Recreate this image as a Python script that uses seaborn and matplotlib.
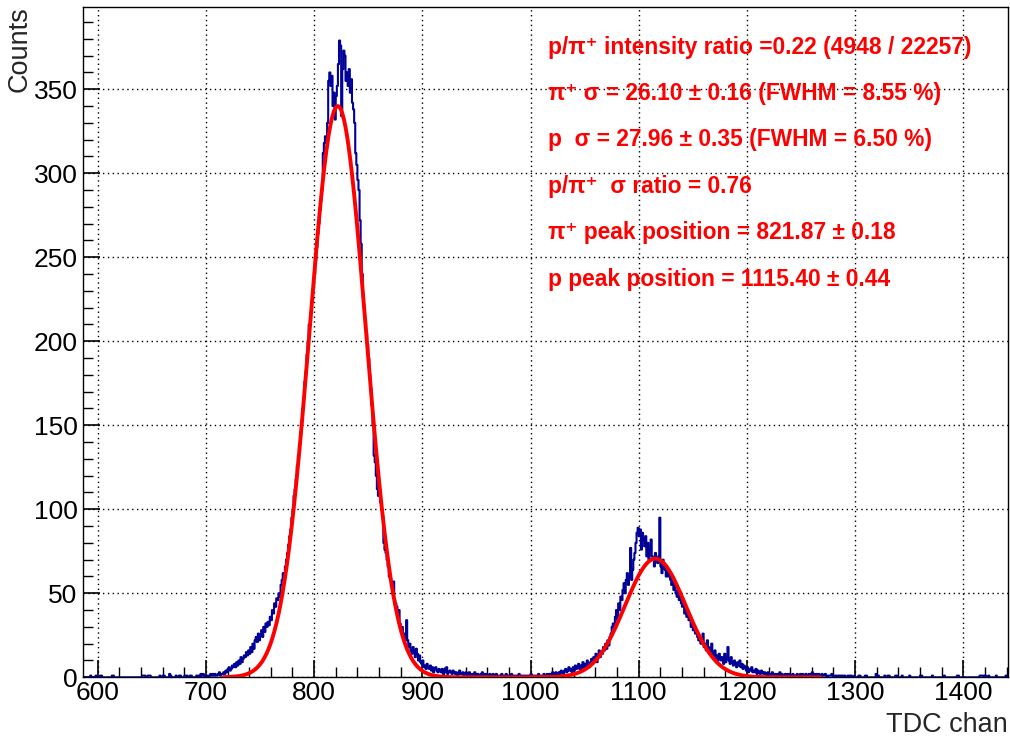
import numpy as np
import pandas as pd
import matplotlib
matplotlib.use("Agg")
import matplotlib.pyplot as plt
import seaborn as sns
from matplotlib.ticker import MultipleLocator

# ---------------- data ----------------
first_channel = 586          # first TDC channel of the histogram (bin width = 1 channel)
counts = [
    0,0,0,0,0,0,0,1,0,0,          # 586
    0,0,1,0,0,0,1,1,0,0,          # 596
    0,0,0,0,0,0,0,1,1,0,          # 606
    0,0,0,0,0,0,0,0,0,0,          # 616
    0,0,0,0,0,0,0,0,0,0,          # 626
    0,0,0,0,0,1,1,1,0,0,          # 636
    1,1,1,0,0,0,0,0,0,0,          # 646
    0,1,0,0,1,1,0,0,0,0,          # 656
    2,1,0,0,0,0,1,0,0,1,          # 666
    1,0,0,0,1,0,1,0,0,1,          # 676
    1,0,0,0,0,1,0,1,0,2,          # 686
    1,2,1,0,1,1,0,1,2,1,          # 696
    2,1,2,1,1,2,3,1,2,2,          # 706
    3,2,4,3,5,6,4,5,7,6,          # 716
    8,6,9,7,10,8,12,9,11,13,      # 726
    12,15,13,16,14,18,15,20,17,22,   # 736
    24,21,26,22,25,28,24,30,27,32,   # 746
    30,33,31,36,34,40,38,44,42,47,   # 756
    46,50,48,55,58,62,60,66,70,74,   # 766
    79,84,88,95,100,108,112,118,126,132,   # 776
    138,144,152,160,166,176,182,192,200,210,   # 786
    210,218,224,232,240,248,256,264,270,278,   # 796
    284,290,312,318,322,318,330,355,360,352,   # 806
    358,340,348,332,346,352,365,379,376,334,   # 816
    362,373,370,355,360,352,362,348,356,342,   # 826
    338,330,312,305,296,290,272,258,240,226,   # 836
    220,212,205,198,190,180,172,162,150,132,   # 846
    128,120,112,108,110,104,100,96,80,76,      # 856
    74,70,66,60,58,54,50,57,46,44,             # 866
    42,38,40,32,28,30,24,26,22,34,             # 876
    22,18,20,16,14,18,15,12,17,14,             # 886
    10,13,9,8,10,6,7,5,8,6,        # 896
    5,7,4,6,3,5,6,4,3,5,           # 906
    4,3,5,2,4,3,6,2,3,4,           # 916
    3,2,4,3,2,3,1,2,4,2,           # 926
    2,3,1,2,3,2,1,3,2,1,           # 936
    2,1,3,1,2,2,1,1,2,3,           # 946
    1,2,1,2,0,1,2,1,1,2,           # 956
    1,0,2,1,1,1,0,2,1,1,           # 966
    1,2,0,1,1,1,2,1,0,1,           # 976
    1,1,0,2,1,1,0,1,1,0,           # 986
    1,0,1,1,2,0,1,1,0,1,           # 996
    1,2,1,0,1,1,2,1,1,2,           # 1006
    1,2,2,1,3,2,1,3,2,2,           # 1016
    3,2,4,3,2,4,5,3,4,6,           # 1026
    4,5,3,6,4,7,5,6,8,5,           # 1036
    7,4,9,6,8,5,10,7,6,9,          # 1046
    11,8,12,10,14,9,13,16,12,15,   # 1056
    14,18,16,20,17,22,19,24,26,30, # 1066
    32,29,36,40,34,44,40,48,46,52, # 1076
    56,50,58,62,55,60,77,58,64,70, # 1086
    74,80,86,89,84,88,76,86,82,78, # 1096
    84,72,80,70,76,82,72,70,66,74, # 1106
    70,68,72,95,66,62,70,68,64,60, # 1116
    64,60,62,58,55,60,52,56,50,48, # 1126
    52,46,48,44,42,46,38,40,36,38, # 1136
    34,36,30,32,28,30,26,28,24,22, # 1146
    24,20,22,26,18,20,16,22,18,14, # 1156
    16,20,14,12,16,11,13,10,14,12, # 1166
    10,12,8,14,9,11,18,10,8,12,    # 1176
    9,7,10,8,6,9,7,10,6,8,         # 1186
    5,7,6,4,6,3,5,4,6,3,           # 1196
    4,3,5,2,4,3,2,4,3,2,           # 1206
    3,2,1,3,2,1,2,3,1,2,           # 1216
    2,1,2,1,3,1,2,1,1,2,           # 1226
    1,2,1,2,1,1,2,1,0,1,           # 1236
    2,1,1,2,1,2,1,1,2,1,           # 1246
    1,2,2,1,3,1,2,1,2,1,           # 1256
    2,1,1,2,1,1,2,1,0,1,           # 1266
    1,1,2,1,0,1,1,0,1,1,           # 1276
    0,1,1,0,1,0,0,1,0,1,           # 1286
    1,0,0,1,0,0,0,1,1,0,           # 1296
    0,0,0,1,1,0,0,0,0,0,           # 1306
    0,0,0,2,1,1,0,0,0,0,           # 1316
    0,1,0,0,1,1,0,0,0,0,           # 1326
    0,1,1,0,0,0,0,1,0,0,           # 1336
    0,0,0,0,1,0,0,0,0,0,           # 1346
    0,0,0,0,1,1,0,0,0,0,           # 1356
    0,0,0,0,0,1,0,0,0,0,           # 1366
    0,0,0,0,0,0,1,0,0,0,           # 1376
    0,0,0,0,0,0,0,0,1,1,           # 1386
    0,0,0,0,0,0,0,0,0,0,           # 1396
    0,0,0,0,0,0,0,0,0,1,           # 1406
    1,1,0,1,1,0,0,1,0,0,           # 1416
    0,0,0,0,1,0,0,0,0,0,           # 1426
    0,0,0,1,0,0,                   # 1436
]

# Gaussian fit results (amplitude, mean, sigma, fit range)
pion_fit = dict(amp=340.0, mean=821.87, sigma=26.10, lo=716.0, hi=1027.0)
proton_fit = dict(amp=70.6, mean=1115.40, sigma=27.96, lo=1000.0, hi=1268.0)

annotations = [
    "p/π⁺ intensity ratio =0.22 (4948 / 22257)",
    "π⁺ σ = 26.10 ± 0.16 (FWHM = 8.55 %)",
    "p  σ = 27.96 ± 0.35 (FWHM = 6.50 %)",
    "p/π⁺  σ ratio = 0.76",
    "π⁺ peak position = 821.87 ± 0.18",
    "p peak position = 1115.40 ± 0.44",
]

x_label = "TDC chan"
y_label = "Counts"

# ---------------- plotting ----------------
sns.set_theme(style="white")
plt.rcParams["font.family"] = ["Liberation Sans", "DejaVu Sans"]

channels = first_channel + np.arange(len(counts))
df = pd.DataFrame({"chan": channels + 0.5, "n": counts})

fig = plt.figure(figsize=(10.10, 7.38), dpi=100)
ax = fig.add_axes([83 / 1010, 1 - 677.3 / 738, (1008 - 83) / 1010, (677.3 - 7.3) / 738])

sns.histplot(data=df, x="chan", weights="n", binwidth=1,
             binrange=(first_channel, first_channel + len(counts)),
             element="step", fill=False,
             color="#000099", linewidth=1.5, ax=ax, zorder=3)

def gauss_frame(p):
    xs = np.linspace(p["lo"], p["hi"], 500)
    ys = p["amp"] * np.exp(-0.5 * ((xs - p["mean"]) / p["sigma"]) ** 2)
    return pd.DataFrame({"x": xs, "y": ys})

for p in (pion_fit, proton_fit):
    sns.lineplot(data=gauss_frame(p), x="x", y="y", color="#ff0000", linewidth=2.8,
                 ax=ax, zorder=4)

ax.set_xlim(586.4, 1441.3)
ax.set_ylim(0, 398.8)
ax.set_xlabel("")
ax.set_ylabel("")

ax.xaxis.set_major_locator(MultipleLocator(100))
ax.xaxis.set_minor_locator(MultipleLocator(20))
ax.yaxis.set_major_locator(MultipleLocator(50))
ax.yaxis.set_minor_locator(MultipleLocator(10))
ax.tick_params(axis="both", which="both", direction="in", colors="black",
               bottom=True, left=True, top=False, right=False)
ax.tick_params(axis="both", which="major", length=12, width=1.2, labelsize=19)
ax.tick_params(axis="both", which="minor", length=7, width=1.0)
ax.tick_params(axis="x", which="major", pad=3)
ax.tick_params(axis="y", which="major", pad=4)

ax.grid(True, which="major", color="black", linestyle=(0, (1, 2.5)), linewidth=1.0)
ax.set_axisbelow(True)
for s in ax.spines.values():
    s.set_color("black")
    s.set_linewidth(1.0)

# annotations
line_y = [375, 347.5, 320, 292.2, 264.5, 236.7]
for txt, yv in zip(annotations, line_y):
    ax.text(1016, yv, txt, color="#ff0000", fontsize=16.4, fontweight="bold",
            ha="left", va="center", zorder=5)

fig.text(20 / 1010, 1 - 6 / 738, y_label, rotation=90, ha="center", va="top", fontsize=19.5)
fig.text(1008 / 1010, 1 - 732 / 738, x_label, ha="right", va="baseline", fontsize=19.5)

fig.savefig("out.png", dpi=100)
